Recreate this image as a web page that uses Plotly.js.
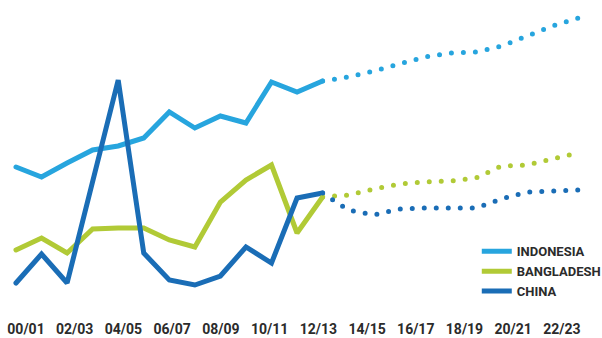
<!DOCTYPE html>
<html>
<head>
<meta charset="utf-8">
<script src="https://cdn.plot.ly/plotly-3.0.1.min.js"></script>
<style>
  html, body { margin: 0; padding: 0; background: #ffffff; }
  #chart { width: 602px; height: 338px; }
  .scatterlayer .js-line { stroke-linecap: round; }
</style>
</head>
<body>
<div id="chart"></div>
<script>
// Seasons (x categories)
const seasons = ['00/01','01/02','02/03','03/04','04/05','05/06','06/07','07/08','08/09','09/10','10/11','11/12',
                 '12/13','13/14','14/15','15/16','16/17','17/18','18/19','19/20','20/21','21/22','22/23'];
const actualSeasons = seasons.slice(0, 13);   // solid lines 00/01 .. 12/13
const projSeasons = seasons.slice(12);        // dotted projection 12/13 .. 22/23
const tickLabels = ['00/01','02/03','04/05','06/07','08/09','10/11','12/13','14/15','16/17','18/19','20/21','22/23'];

// Values (arbitrary index units)
const indonesiaActual = [146,136,150,163,167,175,201,185,197,190,231,221,232];
const indonesiaProj   = [232,236,242,249,256,260,261,267,277,287,295];
const bangladeshActual = [63,75,60,84,85,85,73,66,111,133,148,80,116];
const bangladeshProj   = [116,118,124,129,131,132,135,147,148,154,160];
const chinaActual = [30,59,30,131,233,60,33,28,37,66,50,115,120];
const chinaProj   = [120,103,98,104,105,105,105,114,121,122,123];

const names = ['INDONESIA','BANGLADESH','CHINA'];
const colors = ['#27a5de','#b1ca36','#1a6db6'];

const series = [
  [indonesiaActual, indonesiaProj],
  [bangladeshActual, bangladeshProj],
  [chinaActual, chinaProj]
];

const traces = [];
series.forEach((s, k) => {
  traces.push({
    type: 'scatter', mode: 'lines', x: actualSeasons, y: s[0], name: names[k],
    line: {color: colors[k], width: 5}, hoverinfo: 'x+y+name', showlegend: true
  });
});
series.forEach((s, k) => {
  traces.push({
    type: 'scatter', mode: 'lines', x: projSeasons, y: s[1], name: names[k] + ' (projection)',
    line: {color: colors[k], width: 5, dash: '0px,12px'}, hoverinfo: 'x+y+name', showlegend: false
  });
});
// carrier for the tick-label axis
traces.push({
  type: 'scatter', mode: 'lines', x: seasons, y: seasons.map(() => null), xaxis: 'x2',
  showlegend: false, hoverinfo: 'skip'
});

const fam = 'Roboto, "DejaVu Sans", sans-serif';
const tickFont = {family: fam, size: 14, color: '#2b2b2b', weight: 'bold'};
const legendFont = {family: fam, size: 13, color: '#2b2b2b', weight: 'bold'};

const layout = {
  width: 602, height: 338,
  margin: {l: 0, r: 0, t: 0, b: 25, autoexpand: false},
  paper_bgcolor: '#ffffff', plot_bgcolor: '#ffffff',
  xaxis: {type: 'category', categoryarray: seasons, range: [-0.626, 22.935],
          visible: false, showgrid: false, zeroline: false},
  xaxis2: {type: 'category', categoryarray: seasons, overlaying: 'x', anchor: 'y', side: 'bottom',
           range: [-1.067, 23.645], tickmode: 'array', tickvals: tickLabels, ticktext: tickLabels,
           showgrid: false, zeroline: false, showline: false, ticks: '', tickfont: tickFont,
           ticklabelstandoff: 6},
  yaxis: {range: [0, 313], visible: false, showgrid: false, zeroline: false},
  showlegend: true,
  legend: {x: 0.792, xanchor: 'left', y: 0.245, yanchor: 'top', bgcolor: 'rgba(0,0,0,0)',
           font: legendFont, tracegroupgap: 0, itemwidth: 30},
};

Plotly.newPlot('chart', traces, layout, {displayModeBar: false, staticPlot: true});
</script>
</body>
</html>
